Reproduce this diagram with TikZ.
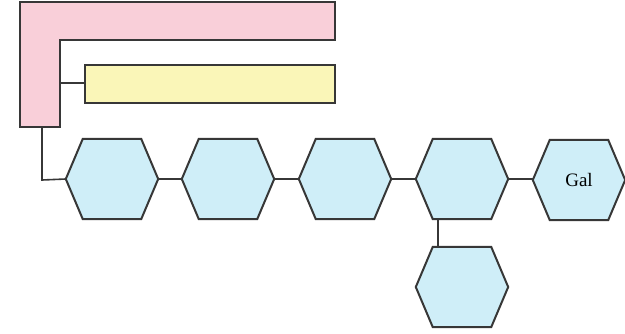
\documentclass[tikz,border=0pt]{standalone}
\usepackage{fontspec}
\setmainfont{Liberation Serif}
\definecolor{pinkfill}{RGB}{249,207,217}
\definecolor{yellowfill}{RGB}{250,246,184}
\definecolor{hexfill}{RGB}{207,238,248}
\definecolor{edge}{RGB}{55,55,55}
\pgfdeclarelayer{bg}
\pgfsetlayers{bg,main}
\begin{document}
\begin{tikzpicture}[x=1pt,y=1pt,
  outline/.style={draw=edge,line width=2pt,line join=miter},
  link/.style={draw=edge,line width=1.6pt,line join=miter},
  hexbox/.style={rectangle,inner sep=0pt,minimum width=92pt,minimum height=80pt,font=\fontsize{19}{19}\selectfont},
  hexshape/.style={outline,fill=hexfill}]
\useasboundingbox (0,0) rectangle (625,-333);
% pink L-shaped block
\path[outline,fill=pinkfill] (20,-2) -- (335,-2) -- (335,-40) -- (60,-40) -- (60,-127) -- (20,-127) -- cycle;
\coordinate (pinkside) at (60,-83);
\coordinate (pinkfoot) at (42,-127);
\coordinate (bend) at (42,-180);
% yellow bar
\node[outline,fill=yellowfill,rectangle,inner sep=0pt,minimum width=250pt,minimum height=38pt] (yel) at (210,-84) {};
% hexagons
\node[hexbox] (h1) at (112,-179) {};
\node[hexbox] (h2) at (228,-179) {};
\node[hexbox] (h3) at (345,-179) {};
\node[hexbox] (h4) at (462,-179) {};
\node[hexbox] (h5) at (579,-180) {Gal};
\node[hexbox] (h6) at (462,-287) {};
\begin{pgfonlayer}{bg}
\foreach \n in {h1,h2,h3,h4,h5,h6}{
  \path[hexshape] (\n.west) -- ([xshift=17pt]\n.north west) -- ([xshift=-17pt]\n.north east) -- (\n.east) -- ([xshift=-17pt]\n.south east) -- ([xshift=17pt]\n.south west) -- cycle;
}
\end{pgfonlayer}
% connectors
\draw[link] (pinkside) -- (yel.west |- pinkside);
\draw[link] (pinkfoot) -- (bend) -- (h1.west);
\draw[link] (h1.east) -- (h2.west);
\draw[link] (h2.east) -- (h3.west);
\draw[link] (h3.east) -- (h4.west);
\draw[link] (h4.east) -- (h5.west |- h4.east);
\draw[link] ([xshift=-24pt]h4.south) -- ([xshift=-24pt]h6.north);
\end{tikzpicture}
\end{document}
